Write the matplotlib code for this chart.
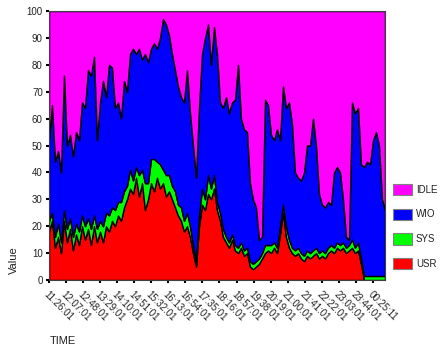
import numpy as np
import matplotlib
matplotlib.use('Agg')
import matplotlib.pyplot as plt
from matplotlib.patches import Patch

plt.rcParams['font.family'] = ['Liberation Sans', 'DejaVu Sans']

# cpu utilisation (%), evenly spaced samples
usr = [18, 22, 12, 16, 10, 22, 14, 19, 11, 17, 13, 20, 15, 19, 13, 20, 14, 18, 14, 20,
       18, 22, 20, 24, 22, 27, 30, 34, 32, 38, 31, 36, 26, 30, 36, 33, 38, 34, 36, 31,
       33, 30, 27, 24, 22, 18, 20, 16, 10, 5, 20, 28, 26, 32, 30, 34, 26, 22, 16, 14,
       12, 15, 11, 10, 12, 9, 10, 5, 4, 5, 6, 8, 10, 11, 10, 12, 10, 17, 25, 16,
       12, 10, 9, 10, 8, 7, 9, 8, 9, 10, 8, 9, 8, 10, 11, 10, 12, 11, 12, 10,
       11, 12, 10, 11, 6, 0, 0, 0, 0, 0, 0, 0, 0]
sys_ = [4, 3, 4, 5, 4, 4, 5, 4, 5, 4, 5, 4, 5, 4, 6, 4, 5, 4, 6, 5,
        6, 5, 6, 5, 7, 6, 5, 7, 5, 4, 8, 5, 10, 6, 9, 12, 6, 9, 5, 8,
        6, 5, 6, 4, 5, 4, 5, 4, 3, 2, 4, 6, 4, 7, 4, 5, 3, 3, 3, 2,
        2, 2, 2, 2, 2, 2, 2, 2, 2, 2, 2, 2, 3, 2, 3, 2, 2, 3, 3, 4,
        3, 2, 2, 2, 2, 2, 2, 2, 2, 2, 2, 2, 2, 2, 2, 2, 2, 2, 2, 2,
        2, 3, 2, 3, 2, 1.5, 1.5, 1.5, 1.5, 1.5, 1.5, 1.5, 1.5]
wio = [30, 40, 28, 27, 26, 50, 31, 31, 30, 34, 34, 42, 44, 55, 57, 59, 33, 44, 54, 43,
       56, 52, 38, 37, 31, 41, 35, 43, 49, 42, 47, 41, 48, 45, 41, 43, 42, 47, 56, 56,
       52, 49, 45, 44, 41, 44, 53, 42, 37, 31, 40, 50, 60, 56, 46, 55, 55, 41, 45, 52,
       48, 49, 54, 68, 46, 45, 43, 29, 24, 20, 7, 6, 54, 52, 41, 38, 44, 32, 44, 44,
       51, 46, 29, 26, 27, 31, 39, 40, 49, 38, 22, 17, 17, 17, 15, 28, 28, 27, 16, 4,
       2, 51, 50, 50, 35, 40.5, 42.5, 41.5, 50.5, 53.5, 48.5, 28.5, 24.5]
idle = [48, 35, 56, 52, 60, 24, 50, 46, 54, 45, 48, 34, 36, 22, 24, 17, 48, 34, 26, 32,
        20, 21, 36, 34, 40, 26, 30, 16, 14, 16, 14, 18, 16, 19, 14, 12, 14, 10, 3, 5,
        9, 16, 22, 28, 32, 34, 22, 38, 50, 62, 36, 16, 10, 5, 20, 6, 16, 34, 36, 32,
        38, 34, 33, 20, 40, 44, 45, 64, 70, 73, 85, 84, 33, 35, 46, 48, 44, 48, 28, 36,
        34, 42, 60, 62, 63, 60, 50, 50, 40, 50, 68, 72, 73, 71, 72, 60, 58, 60, 70, 84,
        85, 34, 38, 36, 57, 58, 56, 57, 48, 45, 50, 70, 74]

time_labels = ['11:26:01', '12:07:01', '12:48:01', '13:29:01', '14:10:01', '14:51:01',
               '15:32:01', '16:13:01', '16:54:01', '17:35:01', '18:16:01', '18:57:01',
               '19:38:01', '20:19:01', '21:00:01', '21:41:01', '22:22:01', '23:03:01',
               '23:44:01', '00:25:11']

names = ['USR', 'SYS', 'WIO', 'IDLE']
cols = ['#ff0000', '#00ff00', '#0000ff', '#ff00ff']

minutes = np.linspace(0, 808, len(usr))
tick_pos = np.arange(len(time_labels)) * 41

fig = plt.figure(figsize=(4.43, 3.51), dpi=100)
ax = fig.add_axes([49/443, 1-280/351, 336/443, 269/351])

ax.stackplot(minutes, usr, sys_, wio, idle, colors=cols,
             edgecolor='black', linewidth=1.0)

ax.set_xlim(0, 808)
ax.set_ylim(0, 100)
ax.set_yticks(np.arange(0, 101, 10))
ax.set_xticks(tick_pos)
ax.set_xticklabels(time_labels, rotation=-45, ha='left', va='top',
                   rotation_mode='anchor')
ax.tick_params(axis='both', which='both', direction='out', length=2.5, width=1.5,
               labelsize=7, colors='black', labelcolor='#222222', pad=2)
ax.tick_params(axis='x', pad=4)
for s in ax.spines.values():
    s.set_linewidth(0.8)
    s.set_color('#404040')

fig.text(14/443, 1-260/351, 'Value', rotation=90, ha='center', va='center',
         fontsize=8, color='#222222')
fig.text(50/443, 1-341/351, 'TIME', ha='left', va='center', fontsize=8,
         color='#222222')

handles = [Patch(facecolor=c, edgecolor='#808080', linewidth=0.8, label=n)
           for n, c in zip(names, cols)][::-1]
fig.legend(handles=handles, loc='upper left', bbox_to_anchor=(393/443, 1-184/351),
           frameon=False, fontsize=7, borderpad=0, borderaxespad=0,
           handlelength=1.95, handleheight=1.4, handletextpad=0.4,
           labelspacing=1.38, labelcolor='#222222')

plt.savefig('out.png', dpi=100)
